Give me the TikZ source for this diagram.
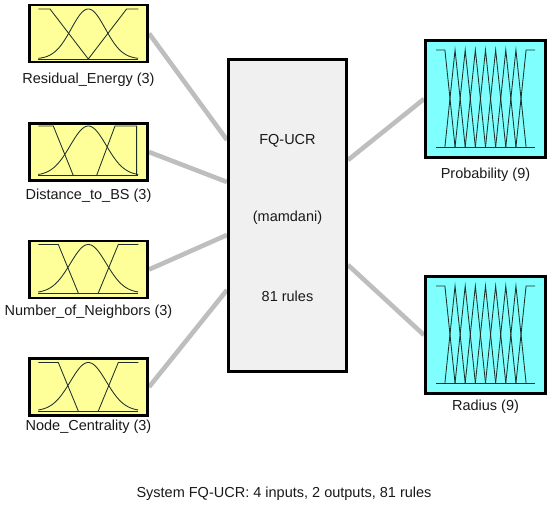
\documentclass[tikz,border=0pt]{standalone}
\usepackage{fontspec}
\setmainfont{Liberation Sans}
\pgfdeclarelayer{bg}
\pgfsetlayers{bg,main}
\definecolor{inyellow}{RGB}{255,255,153}
\definecolor{outcyan}{RGB}{128,255,255}
\definecolor{fisgray}{RGB}{240,240,240}
\definecolor{wiregray}{RGB}{190,190,190}
\definecolor{mfline}{RGB}{30,48,42}
\tikzset{
  boxbase/.style={draw=black, line width=2.6pt, rectangle, inner sep=0pt},
  inbox/.style={boxbase, fill=inyellow, minimum width=118.5pt, minimum height=57pt},
  outbox/.style={boxbase, fill=outcyan, minimum width=120.5pt, minimum height=117.5pt},
  fisbox/.style={boxbase, fill=fisgray, minimum width=118.5pt, minimum height=312.5pt},
  wire/.style={draw=wiregray, line width=4.6pt},
  mf/.style={draw=mfline, line width=0.85pt, line join=miter},
  lbl/.style={font=\fontsize{14.5}{16}\selectfont, anchor=base, inner sep=0pt, text=black!90},
}
\newcommand{\gaussmf}[2]{\draw[mf] plot[domain=0:1, samples=80, smooth] (\x,{exp(-((\x-#1)^2)/(2*#2*#2))});}
\newcommand{\nineMF}{%
  \draw[mf] (0,0) -- (1,0);
  \foreach \k in {0,...,8}{\pgfmathsetmacro{\p}{0.09+\k*0.1025}\expandafter\xdef\csname pp\k\endcsname{\p}}
  \draw[mf] (0,1) -- (\csname pp0\endcsname,1) -- (\csname pp1\endcsname,0);
  \foreach \a/\b/\c in {0/1/2,1/2/3,2/3/4,3/4/5,4/5/6,5/6/7,6/7/8}{
    \draw[mf] (\csname pp\a\endcsname,0) -- (\csname pp\b\endcsname,1) -- (\csname pp\c\endcsname,0);}
  \draw[mf] (\csname pp7\endcsname,0) -- (\csname pp8\endcsname,1) -- (1,1);
}
\begin{document}
\begin{tikzpicture}[x=1pt,y=-1pt]
\useasboundingbox (0,0) rectangle (550,507);
% boxes
\node[fisbox] (fis) at (287.5,215.5) {};
\node[inbox] (re) at (88.5,33.5) {};
\node[inbox] (db) at (88.5,152) {};
\node[inbox] (nn) at (88.5,269.5) {};
\node[inbox] (nc) at (88.5,387) {};
\node[outbox] (pr) at (485.5,99) {};
\node[outbox] (ra) at (485.5,335) {};
% anchor points on the FIS box
\coordinate (i1) at (fis.west |- 0,140);
\coordinate (i2) at (fis.west |- 0,182);
\coordinate (i3) at (fis.west |- 0,235);
\coordinate (i4) at (fis.west |- 0,290);
\coordinate (o1) at (fis.east |- 0,160);
\coordinate (o2) at (fis.east |- 0,265);
% wires behind the boxes
\begin{pgfonlayer}{bg}
\draw[wire] (re.east) -- (i1);
\draw[wire] (db.east) -- (i2);
\draw[wire] (nn.east) -- (i3);
\draw[wire] (nc.east) -- (i4);
\draw[wire] (o1) -- (pr.west);
\draw[wire] (o2) -- (ra.west);
\end{pgfonlayer}
% membership functions
\begin{scope}[shift={(38.3,59)}, x=100pt, y=50pt]
  \draw[mf] (0,0) -- (1,0);
  \draw[mf] (0,1) -- (0.117,1) -- (0.5,0) -- (0.883,1) -- (1,1);
  \gaussmf{0.5}{0.17}
\end{scope}
\begin{scope}[shift={(38.3,175.5)}, x=100pt, y=49.5pt]
  \draw[mf] (0,0) -- (1,0);
  \draw[mf] (0,1) -- (0.15,1) -- (0.35,0);
  \draw[mf] (0.583,0) -- (0.767,1) -- (0.983,1) -- (0.983,0);
  \gaussmf{0.5}{0.18}
\end{scope}
\begin{scope}[shift={(38.3,293)}, x=100pt, y=48.5pt]
  \draw[mf] (0,0) -- (1,0);
  \draw[mf] (0,1) -- (0.2,1) -- (0.4,0);
  \draw[mf] (0.6,0) -- (0.8,1) -- (1,1);
  \gaussmf{0.5}{0.18}
\end{scope}
\begin{scope}[shift={(38.3,411)}, x=100pt, y=48.5pt]
  \draw[mf] (0,0) -- (1,0);
  \draw[mf] (0,1) -- (0.2,1) -- (0.4,0);
  \draw[mf] (0.6,0) -- (0.8,1) -- (1,1);
  \gaussmf{0.5}{0.18}
\end{scope}
\begin{scope}[shift={(436,147)}, x=99pt, y=97pt]
  \nineMF
\end{scope}
\begin{scope}[shift={(436,383)}, x=99pt, y=97pt]
  \nineMF
\end{scope}
% labels
\node[lbl] (lre) at (88.5,83) {Residual\_Energy (3)};
\node[lbl] (ldb) at (88.5,199) {Distance\_to\_BS (3)};
\node[lbl] (lnn) at (88.5,315.5) {Number\_of\_Neighbors (3)};
\node[lbl] (lnc) at (88.5,430) {Node\_Centrality (3)};
\node[lbl] (lpr) at (485.5,178) {Probability (9)};
\node[lbl] (lra) at (485.5,410) {Radius (9)};
\node[lbl] (t1) at (287.5,144) {FQ-UCR};
\node[lbl] (t2) at (287.5,221) {(mamdani)};
\node[lbl] (t3) at (287.5,301) {81 rules};
\node[lbl] (cap) at (284,497) {System FQ-UCR: 4 inputs, 2 outputs, 81 rules};
\end{tikzpicture}
\end{document}
